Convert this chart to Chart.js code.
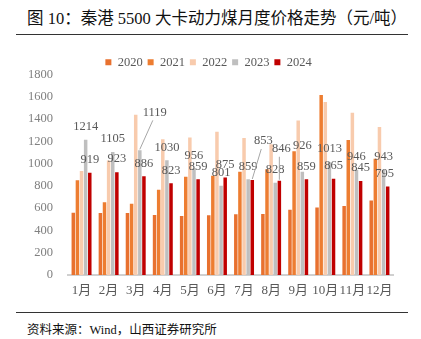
<!DOCTYPE html>
<html>
<head>
<meta charset="utf-8">
<script src="https://cdn.jsdelivr.net/npm/chart.js@4/dist/chart.umd.min.js"></script>
<style>
  body { margin: 0; width: 421px; height: 339px; background: #fff; position: relative; overflow: hidden; }
  .title { position: absolute; left: 27px; top: 5px; font: 16.5px "Liberation Serif", "Noto Sans CJK SC", serif; color: #111; white-space: nowrap; }
  .rule { position: absolute; left: 16px; width: 392px; height: 1px; background: #333; }
  .source { position: absolute; left: 27px; top: 319px; font: 12.5px "Liberation Serif", "Noto Sans CJK SC", serif; color: #111; white-space: nowrap; }
  #wrap { position: absolute; left: 0; top: 40px; width: 421px; height: 265px; }
</style>
</head>
<body>
<div class="title">图 10：秦港 5500 大卡动力煤月度价格走势（元/吨）</div>
<div class="rule" style="top:34px"></div>
<div id="wrap"><canvas id="chart"></canvas></div>
<div class="rule" style="top:312px"></div>
<div class="source">资料来源：Wind，山西证券研究所</div>
<script>
const months = ['1月', '2月', '3月', '4月', '5月', '6月', '7月', '8月', '9月', '10月', '11月', '12月'];
const seriesNames = ['2020', '2021', '2022', '2023', '2024'];
const price2020 = [558, 557, 556, 539, 530, 536, 545, 548, 585, 606, 619, 668];
const price2021 = [851, 652, 640, 766, 882, 891, 927, 949, 1111, 1616, 1212, 1044];
const price2022 = [934, 1028, 1439, 1219, 1234, 1286, 1231, 1173, 1387, 1552, 1457, 1329];
const price2023 = [1214, 1105, 1119, 1030, 956, 801, 859, 828, 926, 1013, 946, 943];
const price2024 = [919, 923, 886, 823, 859, 875, 853, 846, 859, 865, 845, 795];
const yTicks = [0, 200, 400, 600, 800, 1000, 1200, 1400, 1600, 1800];

const colors = ['#E8712F', '#ED7D31', '#F8CBAD', '#BFBFBF', '#C00000'];
const serif = '"Liberation Serif", "Noto Sans CJK SC", serif';

// labels moved by hand in the original: [dataset][month] -> {dx, dy, leader}
const labelMoves = {
  3: { 2: { dx: 15, dy: -25, leader: true }, 8: { dx: 0, dy: -13 } },
  4: { 6: { dx: 11, dy: -26, leader: true }, 7: { dx: 2, dy: -19, leader: true }, 11: { dx: -3, dy: 0 } }
};

// value labels for 2023 and 2024
const valueLabels = {
  id: 'valueLabels',
  afterLayout(chart) {
    // nudge the legend to where the original sits
    const lg = chart.legend;
    lg.top += 4;
    lg.bottom += 4;
    lg.left += 12;
    lg.right += 12;
  },
  afterDatasetsDraw(chart) {
    const ctx = chart.ctx;
    ctx.save();
    ctx.font = '12.5px ' + serif;
    ctx.fillStyle = '#595959';
    ctx.textAlign = 'center';
    ctx.textBaseline = 'middle';
    [3, 4].forEach(di => {
      const meta = chart.getDatasetMeta(di);
      meta.data.forEach((bar, i) => {
        const move = (labelMoves[di] && labelMoves[di][i]) || { dx: 0, dy: 0 };
        const lx = bar.x + move.dx;
        const ly = bar.y - 13 + move.dy;
        if (move.leader) {
          ctx.strokeStyle = '#A6A6A6';
          ctx.lineWidth = 1;
          ctx.beginPath();
          ctx.moveTo(lx - 2, ly + 8);
          ctx.lineTo(bar.x, bar.y - 1);
          ctx.stroke();
        }
        ctx.fillText(chart.data.datasets[di].data[i], lx, ly);
      });
    });
    ctx.restore();
  }
};

const allSeries = [price2020, price2021, price2022, price2023, price2024];

new Chart(document.getElementById('chart'), {
  type: 'bar',
  data: {
    labels: months,
    datasets: allSeries.map((values, i) => ({
      label: seriesNames[i],
      data: values,
      backgroundColor: colors[i],
      borderWidth: 0,
      categoryPercentage: 0.76,
      barPercentage: 0.85
    }))
  },
  options: {
    responsive: true,
    maintainAspectRatio: false,
    animation: false,
    layout: { padding: { left: 0, right: 28, top: 7, bottom: 0 } },
    plugins: {
      legend: {
        position: 'top',
        labels: {
          font: { family: serif, size: 12.5 },
          color: '#595959',
          boxWidth: 6,
          boxHeight: 6,
          padding: 5
        }
      },
      tooltip: { enabled: false }
    },
    scales: {
      x: {
        grid: { display: false, drawTicks: false },
        border: { color: '#D0D0D0', width: 2 },
        ticks: { font: { family: serif, size: 13 }, color: '#595959', padding: 8, maxRotation: 0, autoSkip: false },
        afterFit(scale) { scale.height = 30; }
      },
      y: {
        min: 0,
        max: 1800,
        grid: { display: false, drawTicks: false },
        border: { display: false },
        afterBuildTicks(scale) { scale.ticks = yTicks.map(v => ({ value: v })); },
        ticks: {
          font: { family: serif, size: 12.5 },
          color: '#808080',
          padding: 15,
          callback: v => String(v)
        },
        afterFit(scale) { scale.width = 68; }
      }
    }
  },
  plugins: [valueLabels]
});
</script>
</body>
</html>
